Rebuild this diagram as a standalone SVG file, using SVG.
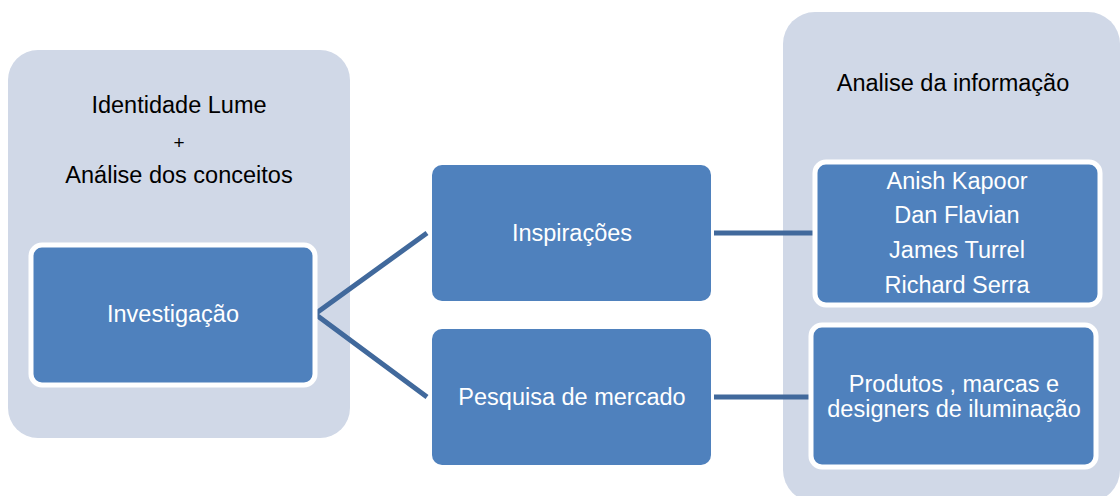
<svg xmlns="http://www.w3.org/2000/svg" width="1120" height="496" viewBox="0 0 1120 496">
<style>
.cont{fill:#D0D8E7;}
.box{fill:#4F81BD;}
.boxw{fill:#4F81BD;stroke:#FFFFFF;stroke-width:5;}
.lbl{font-family:"Liberation Sans",Arial,sans-serif;font-size:23.5px;text-anchor:middle;}
.dark{fill:#000000;}
.light{fill:#FFFFFF;}
.conn{stroke:#41699C;stroke-width:5;fill:none;}
</style>
<rect width="1120" height="496" fill="#FFFFFF"/>
<g id="left-container">
<rect class="cont" x="8" y="50" width="342" height="388" rx="30"/>
<text class="lbl dark" x="179" y="113">Identidade Lume</text>
<text class="lbl dark" x="179" y="149" style="font-size:19px">+</text>
<text class="lbl dark" x="179" y="183">Análise dos conceitos</text>
</g>
<g id="right-container">
<rect class="cont" x="783" y="12" width="337" height="490" rx="32"/>
<text class="lbl dark" x="953" y="91">Analise da informação</text>
</g>
<g id="connectors">
<polyline class="conn" points="427,233 315,314 427,397"/>
<line class="conn" x1="714" y1="233" x2="813" y2="233"/>
<line class="conn" x1="714" y1="397" x2="810" y2="397"/>
</g>
<g id="investigacao">
<rect class="boxw" x="31" y="245" width="284" height="140" rx="11"/>
<text class="lbl light" x="173" y="322">Investigação</text>
</g>
<g id="inspiracoes">
<rect class="box" x="432" y="165" width="279" height="136" rx="10"/>
<text class="lbl light" x="572" y="241">Inspirações</text>
</g>
<g id="pesquisa">
<rect class="box" x="432" y="329" width="279" height="136" rx="10"/>
<text class="lbl light" x="572" y="405">Pesquisa de mercado</text>
</g>
<g id="artistas">
<rect class="boxw" x="815" y="162" width="285" height="143" rx="11"/>
<text class="lbl light" x="957" y="189">Anish Kapoor</text>
<text class="lbl light" x="957" y="223">Dan Flavian</text>
<text class="lbl light" x="957" y="258">James Turrel</text>
<text class="lbl light" x="957" y="293">Richard Serra</text>
</g>
<g id="produtos">
<rect class="boxw" x="811" y="325" width="285" height="142" rx="11"/>
<text class="lbl light" x="954" y="392">Produtos , marcas e</text>
<text class="lbl light" x="954" y="417">designers de iluminação</text>
</g>
</svg>
